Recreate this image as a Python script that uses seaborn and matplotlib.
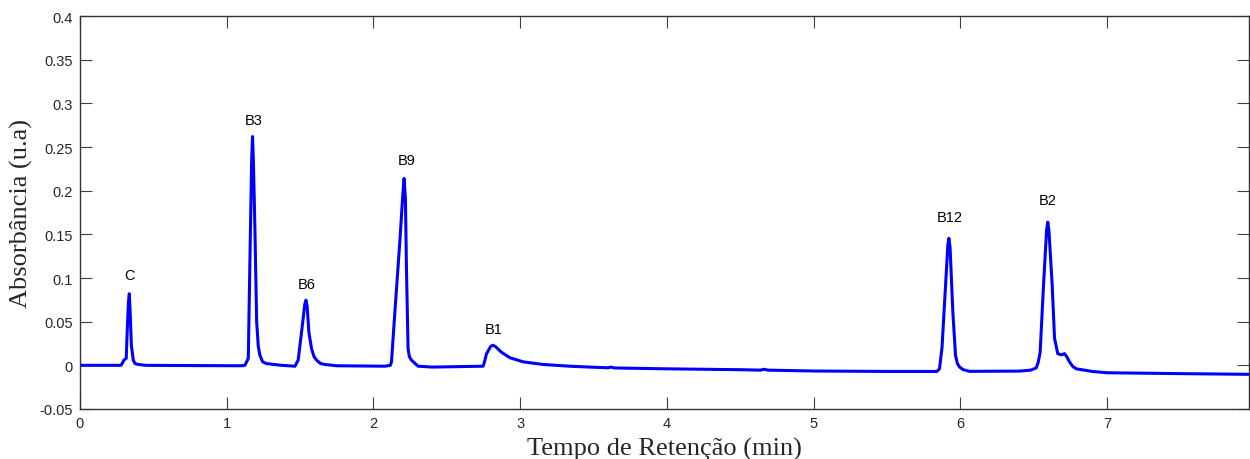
import pandas as pd
import matplotlib
matplotlib.use("Agg")
import matplotlib.pyplot as plt
import seaborn as sns

# --- chromatogram trace (time in min, absorbance in u.a) ---
tempo = [0.0, 0.28, 0.29, 0.30, 0.315, 0.322, 0.330, 0.336, 0.342, 0.350, 0.363, 0.375, 0.397, 0.45, 0.8, 1.10,
         1.124, 1.147, 1.158, 1.170, 1.176, 1.182, 1.192, 1.204, 1.215, 1.226, 1.245, 1.271, 1.374,
         1.465, 1.487, 1.510, 1.532, 1.540, 1.548, 1.560, 1.578, 1.595, 1.612, 1.640, 1.669, 1.75,
         2.078, 2.115, 2.123, 2.146, 2.180, 2.200, 2.209, 2.218, 2.225, 2.236, 2.245, 2.259, 2.304, 2.40,
         2.748, 2.760, 2.770, 2.800, 2.816, 2.835, 2.872, 2.929, 3.02, 3.156, 3.338, 3.474,
         3.60, 3.62, 3.64, 4.0, 4.5, 4.64, 4.66, 4.69, 5.0, 5.5, 5.84,
         5.858, 5.875, 5.893, 5.915, 5.922, 5.930, 5.949, 5.967, 5.980, 5.995, 6.020, 6.063, 6.403, 6.48,
         6.517, 6.530, 6.544, 6.567, 6.588, 6.596, 6.604, 6.626, 6.642, 6.664, 6.690, 6.710, 6.725, 6.744,
         6.765, 6.790, 6.90, 7.0, 7.5, 7.97]
absorbancia = [0.0, 0.0, 0.003, 0.006, 0.008, 0.04, 0.072, 0.082, 0.060, 0.023, 0.006, 0.002, 0.001, 0.0, -0.0003, -0.0005,
               0.0, 0.008, 0.119, 0.235, 0.262, 0.232, 0.157, 0.050, 0.022, 0.0115, 0.004, 0.002, 0.0,
               -0.001, 0.006, 0.038, 0.070, 0.0746, 0.068, 0.038, 0.019, 0.010, 0.006, 0.002, 0.001, -0.0005,
               -0.001, 0.000, 0.004, 0.061, 0.142, 0.195, 0.214, 0.190, 0.111, 0.019, 0.010, 0.006, -0.001, -0.002,
               -0.001, 0.006, 0.013, 0.022, 0.023, 0.021, 0.015, 0.0088, 0.004, 0.001, -0.001, -0.002,
               -0.0028, -0.002, -0.003, -0.004, -0.005, -0.0055, -0.0045, -0.0055, -0.0065, -0.007, -0.007,
               -0.004, 0.020, 0.073, 0.138, 0.1455, 0.135, 0.061, 0.0115, 0.002, -0.002, -0.005, -0.0069, -0.0066, -0.0055,
               -0.003, 0.003, 0.015, 0.092, 0.155, 0.164, 0.154, 0.092, 0.031, 0.0134, 0.012, 0.0134, 0.010, 0.004,
               -0.001, -0.004, -0.007, -0.0085, -0.0095, -0.0103]

# peak labels
picos = ["C", "B3", "B6", "B9", "B1", "B12", "B2"]
picos_x = [0.34, 1.185, 1.544, 2.225, 2.822, 5.93, 6.596]
picos_y = [0.103, 0.281, 0.093, 0.235, 0.042, 0.170, 0.189]

yticks = [-0.05, 0, 0.05, 0.1, 0.15, 0.2, 0.25, 0.3, 0.35, 0.4]
ytick_labels = ["-0.05", "0", "0.05", "0.1", "0.15", "0.2", "0.25", "0.3", "0.35", "0.4"]
xticks = [0, 1, 2, 3, 4, 5, 6, 7]

df = pd.DataFrame({"tempo": tempo, "abs": absorbancia})

sns.set_style("ticks")
plt.rcParams["font.family"] = ["Liberation Sans", "DejaVu Sans"]
plt.rcParams["xtick.direction"] = "in"
plt.rcParams["ytick.direction"] = "in"

fig = plt.figure(figsize=(12.5, 4.6), dpi=100)
ax = fig.add_axes([0.064, 0.1087, 0.9355, 0.8543])

sns.lineplot(data=df, x="tempo", y="abs", color="#0000ff", linewidth=2.2,
             estimator=None, sort=False, ax=ax)

for nome, px, py in zip(picos, picos_x, picos_y):
    ax.text(px, py, nome, ha="center", va="center", fontsize=10.5, color="black")

ax.set_xlim(0, 7.97)
ax.set_ylim(-0.05, 0.4)
ax.set_xticks(xticks)
ax.set_xticklabels([str(v) for v in xticks])
ax.set_yticks(yticks)
ax.set_yticklabels(ytick_labels)
ax.tick_params(axis="both", which="both", top=True, right=True, length=8.5, width=0.8,
               color="#404040", labelsize=10.5, pad=5)
for s in ax.spines.values():
    s.set_visible(True)
    s.set_color("#333333")
    s.set_linewidth(1.0)

ax.set_xlabel("Tempo de Retenção (min)", family=["Liberation Serif", "DejaVu Serif"], fontsize=19, labelpad=5)
ax.set_ylabel("Absorbância (u.a)", family=["Liberation Serif", "DejaVu Serif"], fontsize=19, labelpad=5)

fig.savefig("out.png", dpi=100)
